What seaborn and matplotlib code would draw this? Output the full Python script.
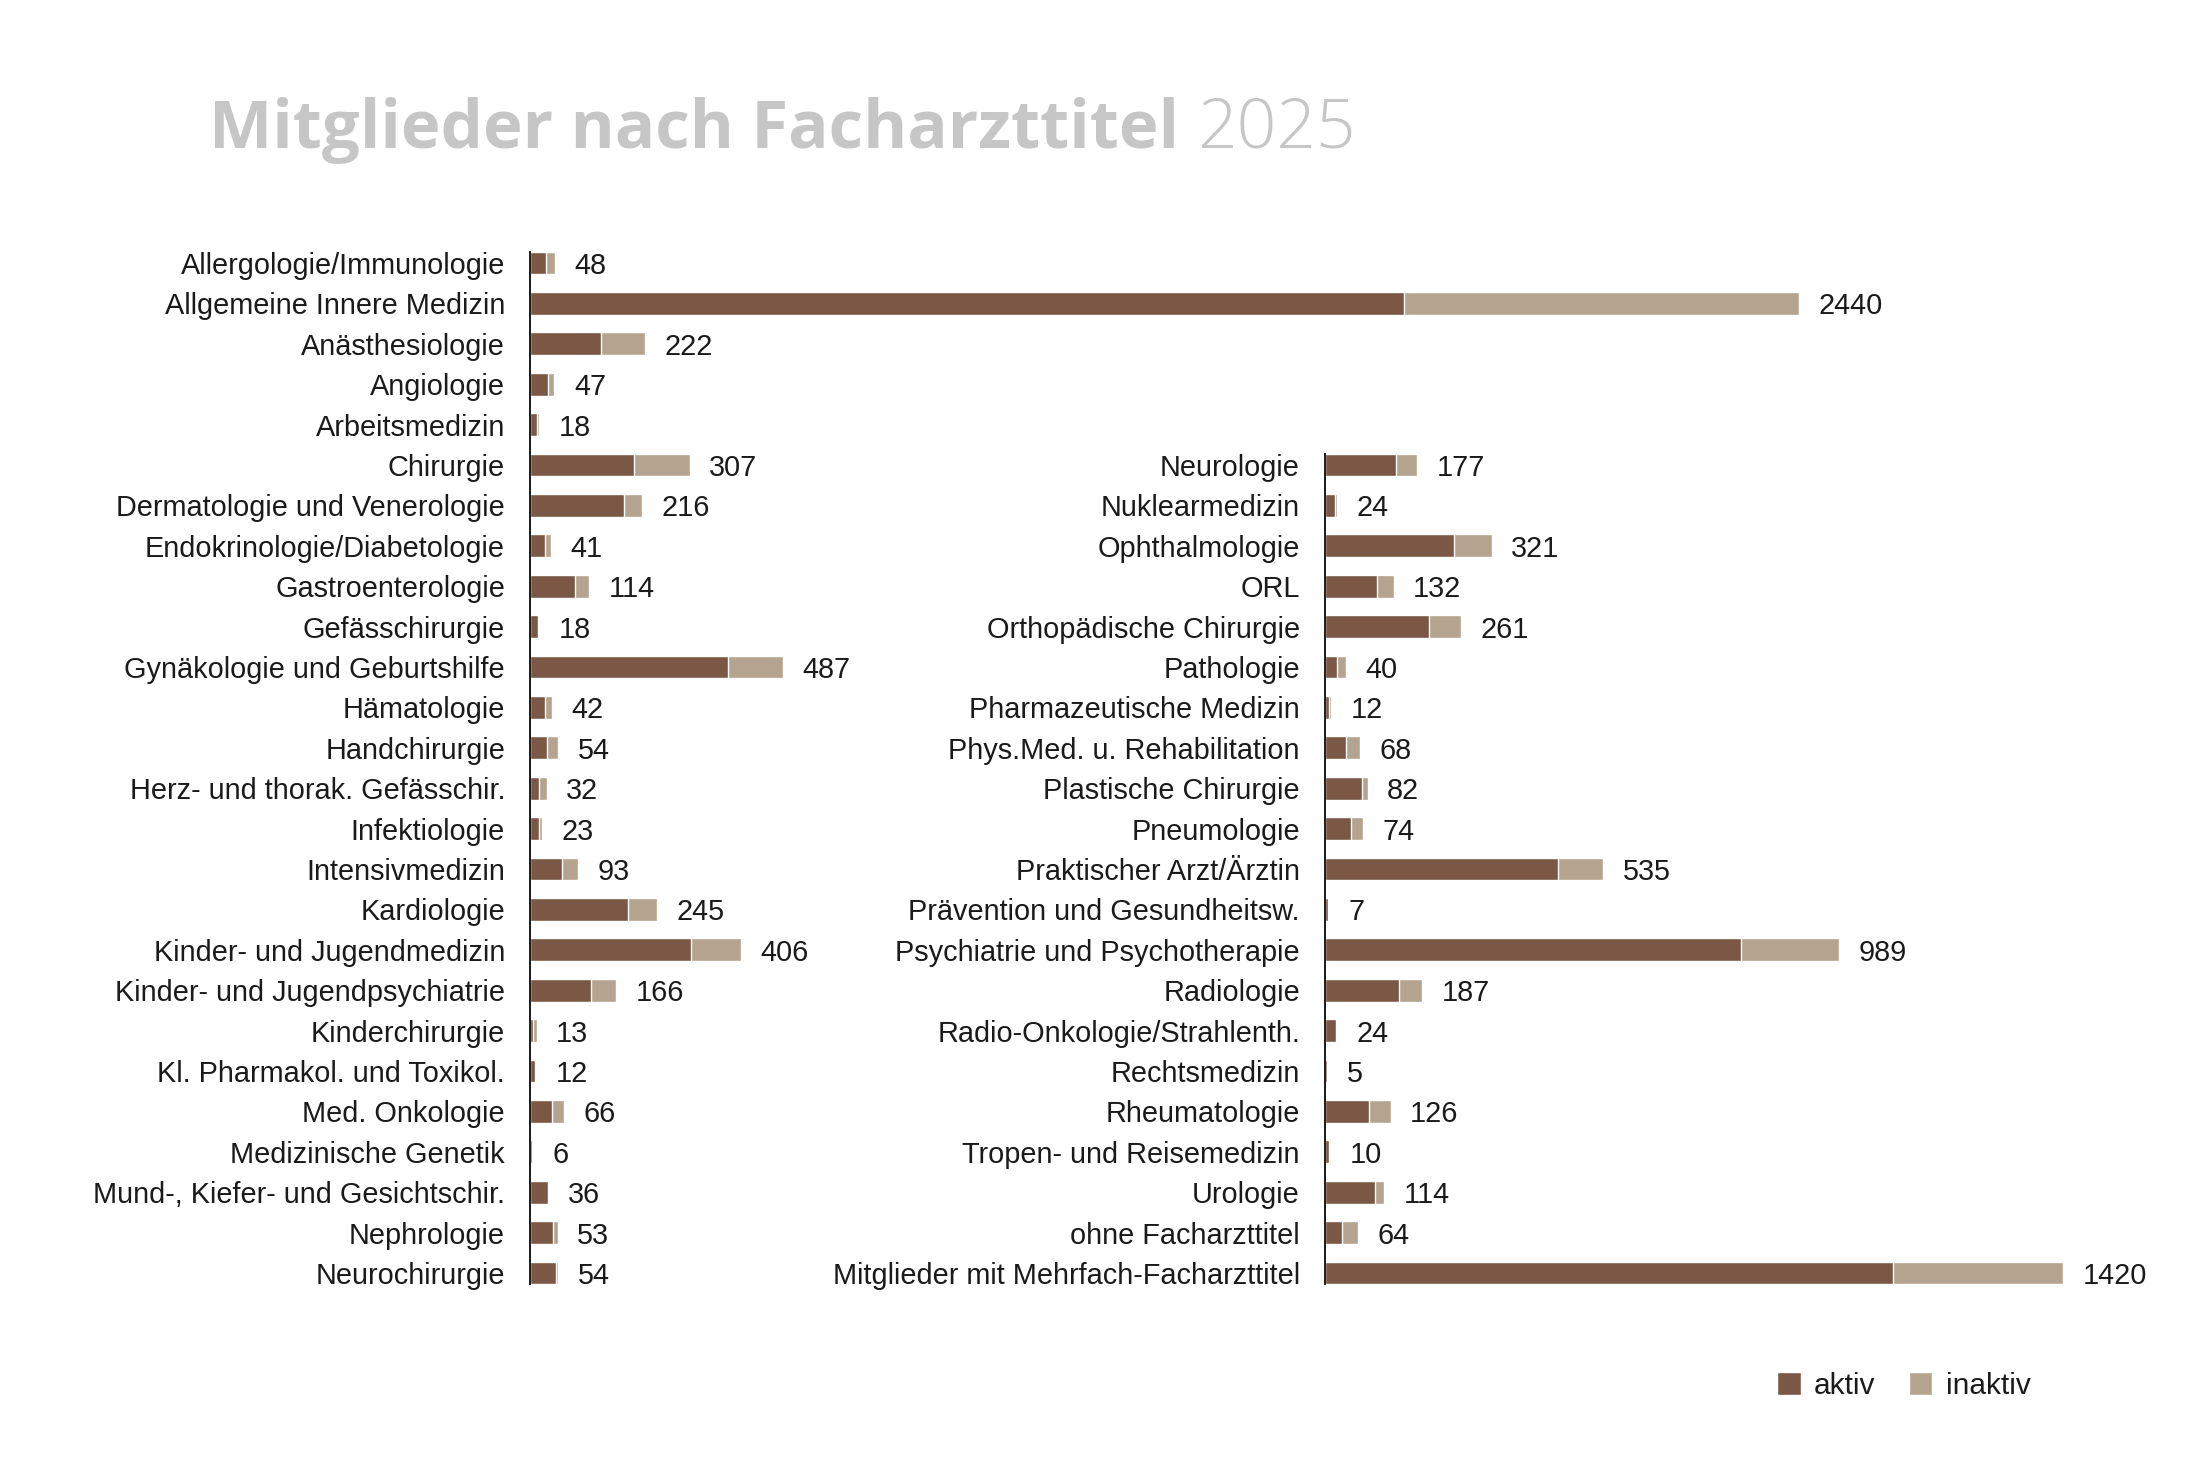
import numpy as np
import pandas as pd
import matplotlib.pyplot as plt
from matplotlib.patches import Patch
import seaborn as sns

# Colours
col_aktiv = "#7B5846"
col_inaktiv = "#B4A38E"
col_title = "#C6C6C6"

# Left column
left_names = ["Allergologie/Immunologie", "Allgemeine Innere Medizin", "Anästhesiologie",
              "Angiologie", "Arbeitsmedizin", "Chirurgie", "Dermatologie und Venerologie",
              "Endokrinologie/Diabetologie", "Gastroenterologie", "Gefässchirurgie",
              "Gynäkologie und Geburtshilfe", "Hämatologie", "Handchirurgie",
              "Herz- und thorak. Gefässchir.", "Infektiologie", "Intensivmedizin",
              "Kardiologie", "Kinder- und Jugendmedizin", "Kinder- und Jugendpsychiatrie",
              "Kinderchirurgie", "Kl. Pharmakol. und Toxikol.", "Med. Onkologie",
              "Medizinische Genetik", "Mund-, Kiefer- und Gesichtschir.", "Nephrologie",
              "Neurochirurgie"]
left_total = [48, 2440, 222, 47, 18, 307, 216, 41, 114, 18, 487, 42, 54, 32, 23, 93,
              245, 406, 166, 13, 12, 66, 6, 36, 53, 54]
left_aktiv = [31, 1680, 136, 35, 13, 200, 180, 29, 87, 15, 380, 29, 33, 18, 17, 62,
              188, 309, 117, 6, 10, 43, 4, 34, 45, 50]

# Right column
right_names = ["Neurologie", "Nuklearmedizin", "Ophthalmologie", "ORL",
               "Orthopädische Chirurgie", "Pathologie", "Pharmazeutische Medizin",
               "Phys.Med. u. Rehabilitation", "Plastische Chirurgie", "Pneumologie",
               "Praktischer Arzt/Ärztin", "Prävention und Gesundheitsw.",
               "Psychiatrie und Psychotherapie", "Radiologie", "Radio-Onkologie/Strahlenth.",
               "Rechtsmedizin", "Rheumatologie", "Tropen- und Reisemedizin", "Urologie",
               "ohne Facharzttitel", "Mitglieder mit Mehrfach-Facharzttitel"]
right_total = [177, 24, 321, 132, 261, 40, 12, 68, 82, 74, 535, 7, 989, 187, 24, 5,
               126, 10, 114, 64, 1420]
right_aktiv = [137, 19, 248, 100, 200, 24, 8, 41, 72, 50, 448, 5, 800, 142, 21, 4,
               85, 7, 97, 33, 1093]

sns.set_theme(style="white")
plt.rcParams["font.family"] = ["Liberation Sans", "DejaVu Sans"]

W, H = 2186, 1458
fig = plt.figure(figsize=(W / 100, H / 100), dpi=100)
fig.patch.set_facecolor("white")

px_per_unit = 0.52
row_top, row_bot = 263, 1273  # centres of first and last row (px from top)
step = (row_bot - row_top) / 25
ax_top = row_top - step / 2
ax_bot = row_bot + step / 2
bottom = 1 - ax_bot / H
height = (ax_bot - ax_top) / H

left_xmax = 2600
right_xmax = 1600
ax1 = fig.add_axes([530 / W, bottom, left_xmax * px_per_unit / W, height])
ax2 = fig.add_axes([1325 / W, bottom, right_xmax * px_per_unit / W, height])

bar_h = 0.56
label_size = 20.8
text_col = "#1a1a1a"


def draw(ax, names, total, aktiv, xmax, ylim, nrows):
    df = pd.DataFrame({"name": names, "total": total, "aktiv": aktiv})
    sns.barplot(data=df, x="total", y="name", color=col_inaktiv, saturation=1,
                width=bar_h, errorbar=None, orient="h", ax=ax)
    sns.barplot(data=df, x="aktiv", y="name", color=col_aktiv, saturation=1,
                width=bar_h, errorbar=None, orient="h", ax=ax)
    txts = ax.bar_label(ax.containers[0], labels=[str(v) for v in total], padding=14,
                        fontsize=label_size, color=text_col)
    for t in txts:
        t.set_va("center_baseline")
    ax.set_xlim(0, xmax)
    ax.set_ylim(*ylim)
    ax.set_xlabel("")
    ax.set_ylabel("")
    ax.xaxis.set_visible(False)
    ax.patch.set_alpha(0)
    for s in ["top", "right", "bottom"]:
        ax.spines[s].set_visible(False)
    ax.spines["left"].set_color(text_col)
    ax.spines["left"].set_linewidth(1.4)
    ax.spines["left"].set_bounds(-bar_h / 2, nrows - 1 + bar_h / 2)
    ax.tick_params(axis="y", length=0, pad=18, labelsize=label_size, labelcolor=text_col)


draw(ax1, left_names, left_total, left_aktiv, left_xmax, (25.5, -0.5), len(left_names))
draw(ax2, right_names, right_total, right_aktiv, right_xmax, (20.5, -5.5), len(right_names))

# Title: bold part plus light year
t1 = fig.text(209 / W, 1 - 148 / H, "Mitglieder nach Facharzttitel", fontsize=48.3,
              fontweight="bold", color=col_title, family=["Open Sans", "DejaVu Sans"],
              va="baseline", ha="left")
fig.canvas.draw()
bb = t1.get_window_extent(renderer=fig.canvas.get_renderer())
fig.text((bb.x1 + 18) / W, 1 - 148 / H, "2025", fontsize=50, fontweight="light",
         color=col_title, family=["Open Sans", "Lato", "DejaVu Sans"], va="baseline", ha="left")

# Legend
handles = [Patch(facecolor=col_aktiv, label="aktiv"), Patch(facecolor=col_inaktiv, label="inaktiv")]
fig.legend(handles=handles, loc="center left", bbox_to_anchor=(1750 / W, 1 - 1386 / H),
           ncol=2, frameon=False, fontsize=21.5, handlelength=0.8, handleheight=0.8,
           handletextpad=0.45, columnspacing=1.1, labelcolor=text_col)

fig.savefig("out.png", dpi=100, facecolor="white")
